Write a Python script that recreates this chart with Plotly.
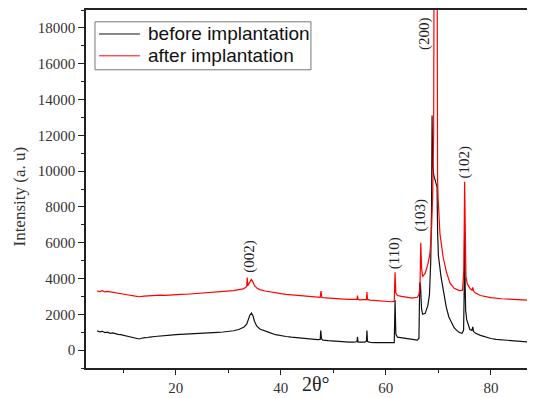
import plotly.graph_objects as go

# ---- data ----
before_x = [5.0, 5.5, 6.0, 6.5, 7.0, 7.5, 8.0, 8.5, 9.0, 9.5, 10.0, 10.5, 11.0, 11.5, 12.0, 12.5, 13.0, 13.5,
            14.0, 14.5, 15.0, 16.0, 17.0, 18.0, 19.0, 20.0, 21.0, 22.0, 23.0, 24.0, 25.0, 26.0, 27.0, 28.0,
            29.0, 30.0, 31.0, 32.0, 32.5, 33.0, 33.5, 33.8, 34.1, 34.4, 34.7, 35.0, 35.4, 36.0, 37.0, 38.0,
            39.0, 40.0, 41.0, 42.0, 43.0, 44.0, 45.0, 46.0, 47.0, 47.5, 47.6, 47.75, 48.0, 49.0, 50.0, 51.0,
            52.0, 53.0, 54.0, 54.5, 54.6, 54.7, 55.0, 56.0, 56.3, 56.4, 56.5, 57.0, 58.0, 59.0, 60.0, 61.0,
            61.6, 61.75, 61.9, 62.2, 63.0, 64.0, 65.0, 66.0, 66.3, 66.45, 66.6, 66.8, 67.0, 67.5, 68.0, 68.3,
            68.55, 68.7, 68.8, 68.9, 69.1, 69.4, 69.75, 69.85, 70.0, 70.5, 71.0, 71.5, 72.0, 72.5, 73.0, 73.5,
            74.0, 74.5, 74.8, 74.9, 75.0, 75.1, 75.2, 75.4, 75.7, 76.0, 76.4, 76.55, 76.7, 77.0, 78.0, 79.0,
            80.0, 81.0, 82.0, 83.0, 84.0, 85.0, 86.0, 87.0, 88.0, 89.0]
before_y = [1080, 1020, 1050, 980, 1000, 940, 960, 900, 880, 860, 820, 800, 760, 740, 690, 660, 620, 660,
            700, 690, 730, 760, 800, 820, 840, 870, 880, 910, 900, 930, 940, 950, 980, 990,
            1010, 1040, 1080, 1150, 1200, 1290, 1450, 1700, 1950, 2070, 1900, 1600, 1350, 1180, 1050, 960,
            860, 790, 760, 720, 690, 660, 640, 610, 590, 600, 1100, 620, 560, 530, 500, 480,
            470, 450, 440, 480, 740, 460, 450, 440, 500, 1100, 480, 430, 420, 410, 400, 410,
            420, 2800, 900, 720, 690, 650, 600, 560, 650, 3780, 3600, 2300, 2000, 2050, 2500, 3100,
            5000, 8000, 13100, 10500, 9800, 9400, 9100, 6600, 5300, 4100, 3200, 2400, 1850, 1500, 1250, 1100,
            980, 940, 1100, 3000, 6600, 3600, 2200, 1700, 1350, 1150, 1100, 1300, 1050, 950, 820, 720,
            650, 600, 570, 540, 520, 490, 470, 450, 430, 420]

after_x = [5.0, 5.5, 6.0, 6.5, 7.0, 8.0, 9.0, 10.0, 11.0, 12.0, 13.0, 14.0, 15.0, 16.0, 17.0, 18.0, 19.0,
           20.0, 21.0, 22.0, 23.0, 24.0, 25.0, 26.0, 27.0, 28.0, 29.0, 30.0, 31.0, 32.0, 32.8, 33.3, 33.5,
           33.6, 33.7, 33.9, 34.2, 34.4, 34.7, 35.0, 35.5, 36.0, 37.0, 38.0, 39.0, 40.0, 41.0, 42.0, 43.0,
           44.0, 45.0, 46.0, 47.0, 47.5, 47.65, 47.8, 48.0, 49.0, 50.0, 51.0, 52.0, 53.0, 54.0, 54.5, 54.6,
           54.7, 55.0, 56.0, 56.3, 56.4, 56.5, 57.0, 58.0, 59.0, 60.0, 61.0, 61.6, 61.75, 61.9, 62.2, 63.0,
           64.0, 65.0, 66.0, 66.3, 66.5, 66.65, 66.8, 67.0, 67.5, 68.0, 68.4, 68.7, 68.9, 69.1, 69.2, 69.75,
           69.85, 69.95, 70.3, 70.9, 71.5, 72.2, 73.0, 74.0, 74.6, 74.85, 75.0, 75.1, 75.25, 75.5, 76.0,
           76.4, 76.55, 76.7, 77.0, 78.0, 79.0, 80.0, 82.0, 84.0, 86.0, 88.0, 89.0]
after_y = [3300, 3270, 3320, 3250, 3280, 3220, 3180, 3120, 3080, 3030, 2980, 3010, 3040, 3030, 3070, 3060, 3090,
           3080, 3110, 3120, 3140, 3150, 3170, 3180, 3200, 3220, 3250, 3280, 3320, 3380, 3420, 3500, 3550,
           4060, 3600, 3700, 3900, 3950, 3800, 3600, 3450, 3380, 3300, 3240, 3190, 3150, 3110, 3080, 3050,
           3020, 3000, 2970, 2960, 2950, 3300, 2950, 2930, 2900, 2880, 2860, 2850, 2830, 2820, 2830, 3050,
           2830, 2810, 2800, 2830, 3250, 2830, 2790, 2760, 2730, 2700, 2700, 2720, 4350, 3200, 3050, 3000,
           2950, 2900, 2950, 3100, 3500, 6000, 4600, 4100, 4300, 4800, 5400, 6800, 8500, 12000, 24000, 24000,
           9500, 8500, 6500, 5200, 4400, 3750, 3450, 3320, 3350, 4500, 9400, 5500, 4100, 3700, 3450,
           3350, 3500, 3300, 3200, 3050, 2980, 2930, 2870, 2830, 2800, 2770, 2760]

series_names = ["before implantation", "after implantation"]
series_colors = ["#111111", "#ff0000"]

peak_labels = ["(002)", "(110)", "(103)", "(200)", "(102)"]
peak_label_x = [34.1, 61.8, 66.5, 67.4, 75.0]
peak_label_y = [5260, 5430, 7580, 17700, 10520]

x_range = [2.9, 88.4]
y_range = [-1000, 19000]
x_ticks = [20, 40, 60, 80]
y_ticks = [0, 2000, 4000, 6000, 8000, 10000, 12000, 14000, 16000, 18000]

serif = "Liberation Serif"

fig = go.Figure()
fig.add_trace(go.Scatter(x=before_x, y=before_y, mode="lines", name=series_names[0],
                         line=dict(color=series_colors[0], width=1.2)))
fig.add_trace(go.Scatter(x=after_x, y=after_y, mode="lines", name=series_names[1],
                         line=dict(color=series_colors[1], width=1.2)))

for t, xx, yy in zip(peak_labels, peak_label_x, peak_label_y):
    fig.add_annotation(x=xx, y=yy, text=t, textangle=-90, showarrow=False,
                       font=dict(family=serif, size=15, color="#222222"))

fig.add_annotation(xref="paper", yref="paper", x=0.512, y=-0.045, text="2θ°", showarrow=False,
                   xanchor="center", yanchor="middle", font=dict(family=serif, size=20, color="#222222"))
fig.add_annotation(xref="paper", yref="paper", x=-0.147, y=0.479, text="Intensity (a. u)",
                   xanchor="center", yanchor="middle",
                   textangle=-90, showarrow=False, font=dict(family=serif, size=17, color="#333333"))

# legend box drawn in paper coordinates (boxed, like the reference)
fig.add_shape(type="rect", xref="paper", yref="paper", x0=0.020, x1=0.501, y0=0.833, y1=0.967,
              line=dict(color="#777777", width=1), fillcolor="white", layer="above")
legend_y = [0.933, 0.872]
for name, col, ly in zip(series_names, series_colors, legend_y):
    fig.add_shape(type="line", xref="paper", yref="paper", x0=0.029, x1=0.120, y0=ly, y1=ly,
                  line=dict(color=col, width=1), layer="above")
    fig.add_annotation(xref="paper", yref="paper", x=0.1336, y=ly, text=name, showarrow=False,
                       xanchor="left", yanchor="middle",
                       font=dict(family="Liberation Sans", size=19, color="#111111"))

# page body adds an ~8px offset, so the figure is sized/margined to compensate
fig.update_layout(
    width=527, height=390,
    margin=dict(l=78, r=0, t=0, b=30),
    paper_bgcolor="white", plot_bgcolor="white",
    showlegend=False,
)
fig.update_xaxes(range=x_range, tickvals=x_ticks, showgrid=False, zeroline=False,
                 showline=True, linecolor="#222222", linewidth=1.5, mirror=True,
                 ticks="outside", ticklen=5, tickcolor="#222222",
                 minor=dict(dtick=10, tick0=0, ticks="outside", ticklen=3, tickcolor="#222222"),
                 tickfont=dict(family=serif, size=15, color="#333333"))
fig.update_yaxes(range=y_range, tickvals=y_ticks, tickformat="d", showgrid=False, zeroline=False,
                 showline=True, linecolor="#222222", linewidth=1.5,
                 ticks="outside", ticklen=6, tickcolor="#222222",
                 minor=dict(dtick=1000, tick0=0, ticks="outside", ticklen=3, tickcolor="#222222"),
                 tickfont=dict(family=serif, size=15, color="#333333"))

fig.write_html("out.html")
